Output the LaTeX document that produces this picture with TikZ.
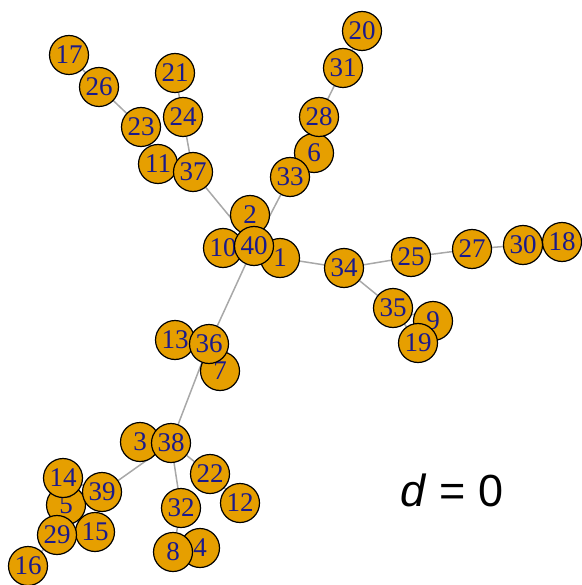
\documentclass[tikz,border=0pt]{standalone}
\usepackage{fontspec}
\setmainfont{Liberation Serif}
\newfontfamily\labsans{Liberation Sans}
\usetikzlibrary{backgrounds}
\definecolor{vfill}{HTML}{E69F00}
\definecolor{vlab}{HTML}{1A1A8C}
\definecolor{egray}{HTML}{A8A8A8}
\tikzset{
  vert/.style={circle, draw=black, line width=1.2pt, fill=vfill, inner sep=0pt,
    minimum size=39pt, text=vlab, font=\fontsize{27}{27}\selectfont},
  edge/.style={draw=egray, line width=1.5pt}
}
\begin{document}
\begin{tikzpicture}[x=1pt,y=1pt]
\useasboundingbox (0,0) rectangle (581,-585);
\foreach \n/\px/\py in {1/280/258, 2/250/215, 3/140/442, 4/200/548, 5/66/505,
  6/314/153, 7/220/371, 8/173/552, 9/433/321, 10/223/248, 11/158/164,
  12/240/503, 13/175/340, 14/63/478, 15/95/532, 16/28/566, 17/69/55,
  18/562/242, 19/418/343, 20/362/31, 21/175/73, 22/210/474, 23/141/127,
  24/183/117, 25/411/257, 26/99/87, 27/472/249, 28/319/117, 29/57/535,
  30/523/245, 31/343/68, 32/181/508, 33/290/177, 34/344/268, 35/393/308,
  36/209/344, 37/193/172, 38/171/443, 39/102/492, 40/254/246}
  {\node[vert] (v\n) at (\px,-\py) {\n};}
\begin{pgfonlayer}{background}
\foreach \a/\b in {17/26, 26/23, 23/11, 11/37, 21/24, 24/37, 37/40,
  40/2, 40/10, 40/1, 33/40, 33/6, 6/28, 28/31, 31/20,
  1/34, 34/25, 25/27, 27/30, 30/18, 34/35, 35/9, 35/19,
  40/36, 36/13, 36/7, 36/38, 38/3, 38/22, 22/12, 38/32, 32/8, 8/4,
  38/39, 39/14, 39/5, 39/15, 5/29, 29/16}
  {\path[edge] (v\a) -- (v\b);}
\end{pgfonlayer}
\node[font=\labsans\fontsize{45}{45}\selectfont, inner sep=0pt] (dlabel) at (452,-490) {\textit{d} = 0};
\end{tikzpicture}
\end{document}
